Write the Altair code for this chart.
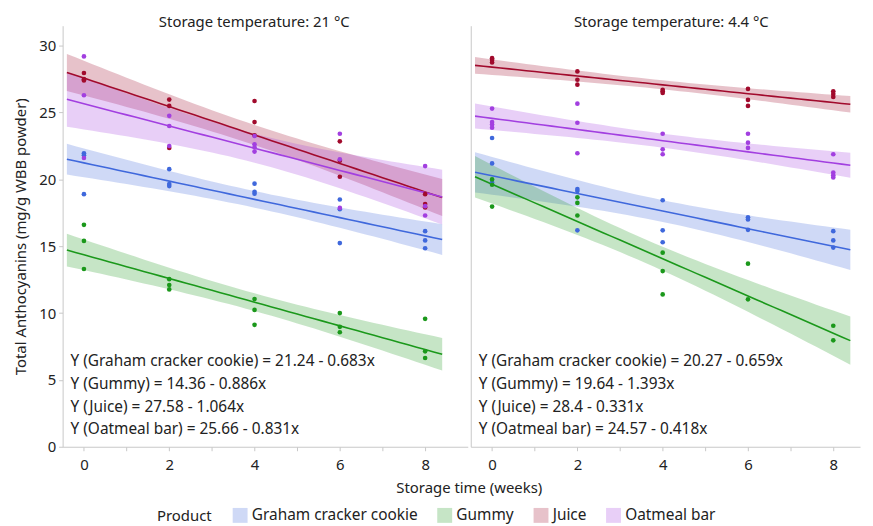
import altair as alt
import pandas as pd
import numpy as np

FONT = "Noto Sans"

products = ["Graham cracker cookie", "Gummy", "Juice", "Oatmeal bar"]
line_colors = ["#3f68dc", "#1b981b", "#a10a2c", "#a23fe0"]
temps = ["21 °C", "4.4 °C"]

# ---- observed points, storage 21 °C ----
w21_graham = [0, 0, 0, 2, 2, 2, 4, 4, 4, 6, 6, 6, 8, 8, 8]
y21_graham = [21.96, 21.8, 18.9, 20.77, 19.65, 19.5, 19.68, 19.08, 18.93, 18.5, 17.77, 15.24, 16.13, 15.44, 14.85]
w21_gummy = [0, 0, 0, 2, 2, 2, 4, 4, 4, 6, 6, 6, 8, 8, 8]
y21_gummy = [16.6, 15.4, 13.3, 12.54, 12.1, 11.77, 11.05, 10.24, 9.12, 10.0, 8.97, 8.57, 9.57, 7.14, 6.64]
w21_juice = [0, 0, 0, 2, 2, 2, 4, 4, 4, 6, 6, 6, 8, 8, 8]
y21_juice = [27.96, 27.5, 27.4, 25.97, 25.5, 22.35, 25.87, 24.29, 23.3, 22.85, 21.4, 20.2, 18.9, 18.16, 17.9]
w21_oat = [0, 0, 0, 2, 2, 2, 4, 4, 4, 4, 6, 6, 6, 8, 8, 8]
y21_oat = [29.2, 26.3, 21.6, 24.76, 24.0, 22.5, 23.25, 22.63, 22.4, 22.08, 23.42, 21.5, 17.87, 21.0, 18.0, 17.3]

# ---- observed points, storage 4.4 °C ----
w44_graham = [0, 0, 0, 2, 2, 2, 4, 4, 4, 6, 6, 6, 8, 8, 8]
y44_graham = [23.1, 21.2, 19.77, 19.28, 19.13, 16.19, 18.44, 16.19, 15.3, 17.17, 17.0, 16.23, 16.13, 15.44, 14.9]
w44_gummy = [0, 0, 0, 2, 2, 2, 4, 4, 4, 6, 6, 8, 8]
y44_gummy = [20.0, 19.6, 17.97, 18.66, 18.24, 17.3, 14.52, 13.14, 11.4, 13.7, 11.03, 9.05, 7.96]
w44_juice = [0, 0, 0, 2, 2, 2, 4, 4, 4, 6, 6, 6, 8, 8, 8]
y44_juice = [29.07, 28.94, 28.75, 28.08, 27.46, 27.09, 26.7, 26.6, 26.47, 26.77, 25.95, 25.5, 26.6, 26.4, 26.17]
w44_oat = [0, 0, 0, 0, 2, 2, 2, 4, 4, 4, 6, 6, 6, 8, 8, 8, 8]
y44_oat = [25.3, 24.29, 24.1, 23.87, 25.67, 24.24, 21.96, 23.42, 22.25, 21.88, 23.42, 22.75, 22.36, 21.88, 20.52, 20.32, 20.15]

# ---- fitted equations shown on the chart (intercept, slope magnitude) ----
int21 = [21.24, 14.36, 27.58, 25.66]
slope21 = [0.683, 0.886, 1.064, 0.831]
int44 = [20.27, 19.64, 28.4, 24.57]
slope44 = [0.659, 1.393, 0.331, 0.418]

obs = {
    "21 °C": [(w21_graham, y21_graham), (w21_gummy, y21_gummy), (w21_juice, y21_juice), (w21_oat, y21_oat)],
    "4.4 °C": [(w44_graham, y44_graham), (w44_gummy, y44_gummy), (w44_juice, y44_juice), (w44_oat, y44_oat)],
}
coefs = {"21 °C": (int21, slope21), "4.4 °C": (int44, slope44)}

T975 = {9: 2.262, 10: 2.228, 11: 2.201, 12: 2.179, 13: 2.160, 14: 2.145, 15: 2.131, 16: 2.120, 17: 2.110, 18: 2.101}

point_rows, band_rows, eq_rows = [], [], []
for t in temps:
    ints, slopes = coefs[t]
    lines = []
    for p, (w, y), a, b in zip(products, obs[t], ints, slopes):
        for wi, yi in zip(w, y):
            point_rows.append({"temp": t, "Product": p, "week": wi, "value": yi})
        w_arr = np.array(w, float)
        y_arr = np.array(y, float)
        n = len(w_arr)
        resid = y_arr - (a - b * w_arr)
        s = np.sqrt((resid ** 2).sum() / (n - 2))
        xbar = w_arr.mean()
        sxx = ((w_arr - xbar) ** 2).sum()
        tq = T975.get(n - 2, 2.1)
        for x0 in np.linspace(-0.4, 8.4, 45):
            fit = a - b * x0
            se = s * np.sqrt(1.0 / n + (x0 - xbar) ** 2 / sxx)
            band_rows.append({"temp": t, "Product": p, "week": x0, "fit": fit,
                              "lo": fit - tq * se, "hi": fit + tq * se})
        lines.append(f"Y ({p}) = {a} - {b}x")
    eq_rows.append({"temp": t, "eq": "\n".join(lines)})

points_df = pd.DataFrame(point_rows)
band_df = pd.DataFrame(band_rows)
eq_df = pd.DataFrame(eq_rows)

color_scale = alt.Scale(domain=products, range=line_colors)
H = 424
y_scale = alt.Scale(domain=[0, 31.5], nice=False)


def panel(t, first, width, xmax, header_dx):
    x_scale = alt.Scale(domain=[-0.5, xmax], nice=False, zero=False)
    if first:
        x_axis = alt.Axis(values=list(range(0, 9)), labelExpr="datum.value % 2 == 0 ? datum.label : ''",
                          title="Storage time (weeks)", titleX=409, titleAnchor="middle", grid=False,
                          tickSize=4, titlePadding=8, labelPadding=7)
        y_axis = alt.Axis(values=[i * 2.5 for i in range(13)],
                          labelExpr="datum.value % 5 == 0 ? datum.label : ''",
                          title="Total Anthocyanins (mg/g WBB powder)", grid=False, tickSize=4, titlePadding=10)
    else:
        x_axis = alt.Axis(values=list(range(0, 9)), labelExpr="datum.value % 2 == 0 ? datum.label : ''",
                          title=None, grid=False, tickSize=4, labelPadding=7)
        y_axis = alt.Axis(labels=False, ticks=False, title=None, grid=False, domain=True)

    bd = band_df[band_df.temp == t]
    pd_ = points_df[points_df.temp == t]
    ed = eq_df[eq_df.temp == t]

    band = alt.Chart(bd).mark_area(opacity=0.25).encode(
        x=alt.X("week:Q", scale=x_scale, axis=x_axis),
        y=alt.Y("lo:Q", scale=y_scale, axis=y_axis),
        y2="hi:Q",
        color=alt.Color("Product:N", scale=color_scale,
                        legend=alt.Legend(title="Product", orient="none", legendX=95, legendY=485,
                                          direction="horizontal", columns=4, symbolType="square",
                                          symbolSize=225, symbolOpacity=0.25, symbolStrokeWidth=0,
                                          titleOrient="left", labelFontSize=15.5, titleFontSize=15,
                                          titleFontWeight="normal", columnPadding=19, labelOffset=4,
                                          titlePadding=20, labelFont=FONT, titleFont=FONT, labelLimit=400,
                                          titleBaseline="bottom", titleAnchor="end",
                                          labelColor="#222", titleColor="#222")),
        detail="Product:N",
    )
    line = alt.Chart(bd).mark_line(strokeWidth=1.6).encode(
        x="week:Q", y="fit:Q",
        color=alt.Color("Product:N", scale=color_scale, legend=None),
    )
    pts = alt.Chart(pd_).mark_circle(size=22, opacity=1).encode(
        x="week:Q", y="value:Q",
        color=alt.Color("Product:N", scale=color_scale, legend=None),
    )
    txt = alt.Chart(ed).mark_text(align="left", baseline="middle", lineBreak="\n", lineHeight=22.8,
                                  fontSize=15.5, font=FONT, color="#222").encode(
        text="eq:N", x=alt.value(8), y=alt.value(338),
    )
    return alt.layer(band, line, pts, txt).properties(
        width=width, height=H,
        title=alt.TitleParams(f"Storage temperature: {t}", fontSize=15, fontWeight="normal",
                              font=FONT, color="#222", dx=header_dx, offset=-4),
    )


PX_PER_WEEK = 408 / 9.5
W2 = 392
chart = alt.hconcat(panel("21 °C", True, 408, 9.0, -11),
                    panel("4.4 °C", False, W2, -0.5 + W2 / PX_PER_WEEK, 6),
                    spacing=3, bounds="flush").configure_view(stroke=None).configure_axis(
    labelFont=FONT, titleFont=FONT, labelFontSize=15, titleFontSize=15, titleFontWeight="normal",
    labelColor="#222", titleColor="#222", domainColor="#c8c8c8", tickColor="#c8c8c8", labelPadding=3,
).configure_concat(spacing=3)

chart.save("out.html", embed_options={"renderer": "svg", "actions": False})
